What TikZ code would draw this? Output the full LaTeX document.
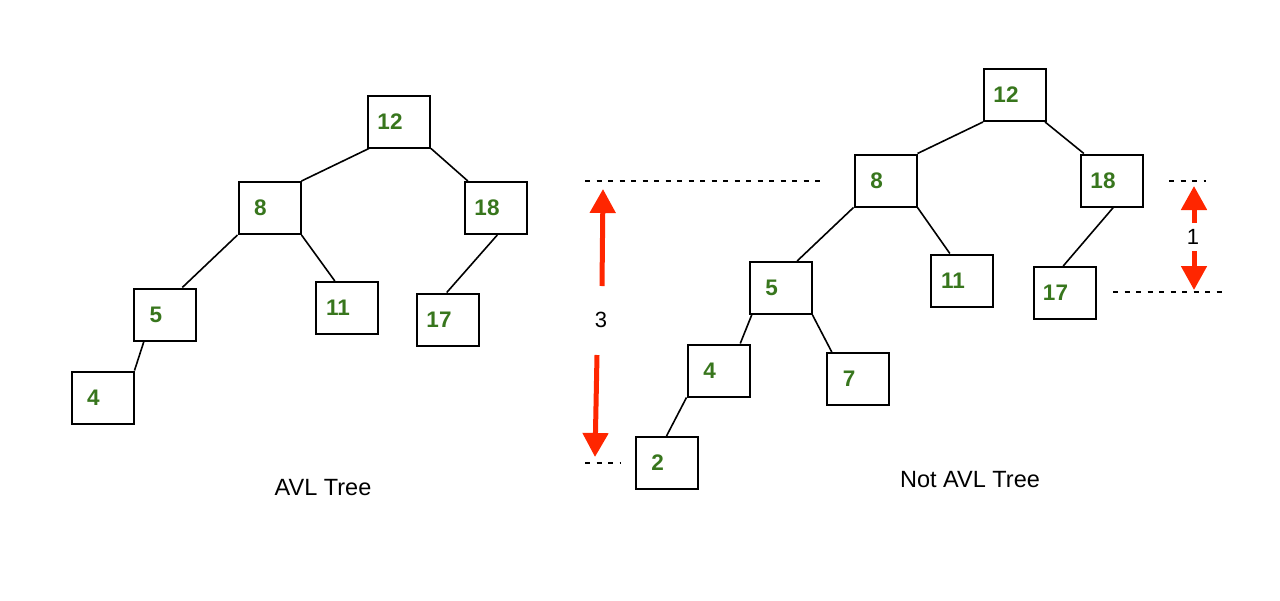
\documentclass[tikz,border=0pt]{standalone}
\usepackage{fontspec}
\setmainfont{Liberation Sans}
\usetikzlibrary{arrows.meta,calc}
\definecolor{numgreen}{HTML}{38761D}
\definecolor{arrred}{HTML}{FF2600}
\tikzset{
  tbox/.style={draw=black, line width=2pt, minimum width=62pt, minimum height=52pt,
    inner sep=0pt, text=numgreen, font=\fontsize{22.5}{26}\selectfont\bfseries},
  edge/.style={draw=black, line width=1.6pt},
  dline/.style={draw=black, line width=1.6pt, dash pattern=on 5pt off 6.5pt},
  redarr/.style={draw=arrred, line width=5pt, -{Triangle[width=25pt,length=24pt]}},
  lbl/.style={font=\fontsize{22}{26}\selectfont, text=black, inner sep=0pt},
  captxt/.style={font=\fontsize{23.5}{28}\selectfont, text=black, inner sep=0pt}
}
\newcommand{\nb}[1]{#1\hspace*{18pt}}
\begin{document}
\begin{tikzpicture}[x=1pt,y=-1pt]
\useasboundingbox (0,0) rectangle (1280,600);
% Left tree
\node[tbox] (L12) at (399,121.5) {\nb{12}};
\node[tbox] (L8)  at (269.5,208) {\nb{8}};
\node[tbox] (L18) at (496,208) {\nb{18}};
\node[tbox] (L5)  at (165,314.5) {\nb{5}};
\node[tbox] (L11) at (347,308) {\nb{11}};
\node[tbox] (L17) at (448,319.5) {\nb{17}};
\node[tbox] (L4)  at (102.5,397.5) {\nb{4}};
\draw[edge] ($(L12.south west)!0.03!(L12.south east)$) -- (L8.north east);
\draw[edge] (L12.south east) -- ($(L18.north west)!0.06!(L18.north east)$);
\draw[edge] (L8.south west) -- ($(L5.north west)!0.77!(L5.north east)$);
\draw[edge] (L8.south east) -- ($(L11.north west)!0.31!(L11.north east)$);
\draw[edge] ($(L18.south west)!0.52!(L18.south east)$) -- ($(L17.north west)!0.48!(L17.north east)$);
\draw[edge] ($(L5.south west)!0.17!(L5.south east)$) -- (L4.north east);
% Right tree
\node[tbox] (R12) at (1015,95) {\nb{12}};
\node[tbox] (R8)  at (885.5,180.5) {\nb{8}};
\node[tbox] (R18) at (1112,180.5) {\nb{18}};
\node[tbox] (R11) at (962,280.5) {\nb{11}};
\node[tbox] (R17) at (1064.5,293) {\nb{17}};
\node[tbox] (R5)  at (780.5,288) {\nb{5}};
\node[tbox] (R4)  at (718.5,370.5) {\nb{4}};
\node[tbox] (R7)  at (858,379) {\nb{7}};
\node[tbox] (R2)  at (666.5,463) {\nb{2}};
\draw[edge] (R12.south west) -- (R8.north east);
\draw[edge] ($(R12.south west)!0.97!(R12.south east)$) -- ($(R18.north west)!0.06!(R18.north east)$);
\draw[edge] (R8.south west) -- ($(R5.north west)!0.76!(R5.north east)$);
\draw[edge] (R8.south east) -- ($(R11.north west)!0.31!(R11.north east)$);
\draw[edge] ($(R18.south west)!0.52!(R18.south east)$) -- ($(R17.north west)!0.48!(R17.north east)$);
\draw[edge] ($(R5.south west)!0.05!(R5.south east)$) -- ($(R4.north west)!0.84!(R4.north east)$);
\draw[edge] (R5.south east) -- ($(R7.north west)!0.09!(R7.north east)$);
\draw[edge] (R4.south west) -- ($(R2.north west)!0.5!(R2.north east)$);
% dashed reference lines
\coordinate (d1a) at (585,181); \coordinate (d1b) at (826,181);
\coordinate (d2a) at (1169,181); \coordinate (d2b) at (1206,181);
\coordinate (d3a) at (1113,292); \coordinate (d3b) at (1223,292);
\coordinate (d4a) at (585,463); \coordinate (d4b) at (621,463);
\draw[dline] (d1a) -- (d1b);
\draw[dline] (d2a) -- (d2b);
\draw[dline] (d3a) -- (d3b);
\draw[dline] (d4a) -- (d4b);
% height labels and arrows
\node[lbl] (h3) at (601,320) {3};
\node[lbl] (h1) at (1193,237) {1};
\coordinate (a3s) at (602,286); \coordinate (a3t) at (603,189);
\coordinate (b3s) at (597,355); \coordinate (b3t) at (595,457);
\coordinate (a1s) at (1194,223); \coordinate (a1t) at (1194,186);
\coordinate (b1s) at (1194,251); \coordinate (b1t) at (1194,290);
\draw[redarr] (a3s) -- (a3t);
\draw[redarr] (b3s) -- (b3t);
\draw[redarr] (a1s) -- (a1t);
\draw[redarr] (b1s) -- (b1t);
% captions
\node[captxt] (capL) at (323,488) {AVL Tree};
\node[captxt] (capR) at (970,480) {Not AVL Tree};
\end{tikzpicture}
\end{document}
